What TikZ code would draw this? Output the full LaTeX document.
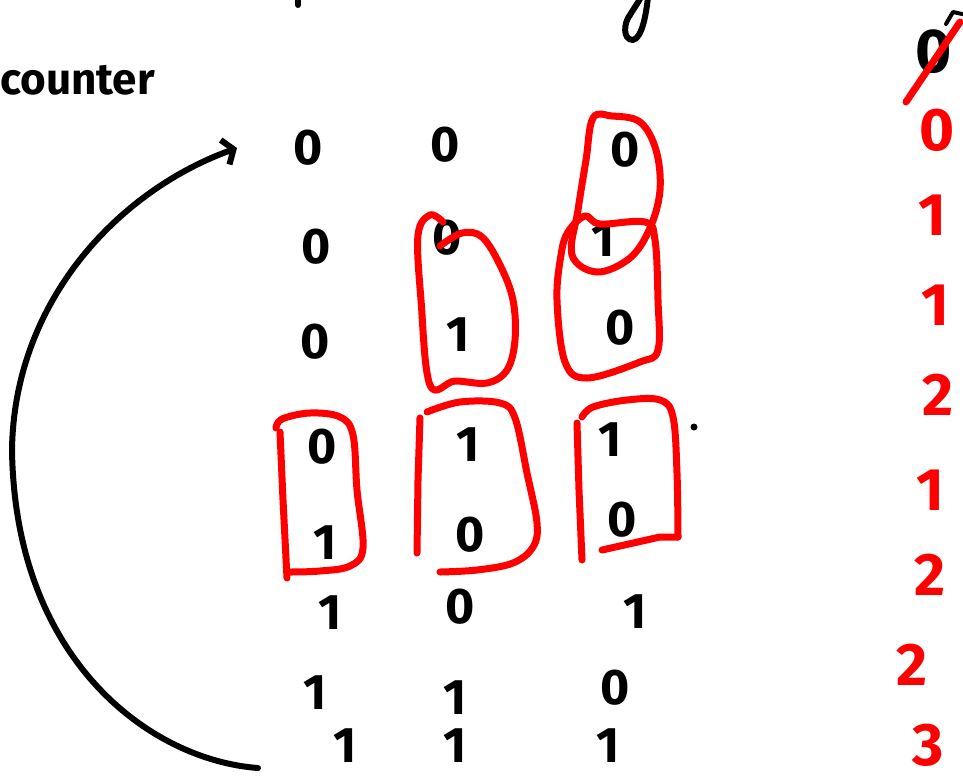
\documentclass[tikz,border=0pt]{standalone}
\usepackage{fontspec}
\setmainfont{Fira Sans}
\usetikzlibrary{arrows.meta}
\begin{document}
\begin{tikzpicture}[x=1pt,y=-1pt,
  digit/.style={font=\fontsize{50}{50}\selectfont\bfseries, inner sep=0pt},
  rdigit/.style={font=\fontsize{60}{60}\selectfont\bfseries, text=red, inner sep=0pt},
  redloop/.style={draw=red, line width=7pt, line cap=round, line join=round},
  ink/.style={draw=black, line width=6pt, line cap=round, line join=round}]
\useasboundingbox (0,0) rectangle (963,782);

% label
\node[font=\fontsize{44}{44}\selectfont\bfseries, anchor=west, inner sep=0pt] (counter) at (0,80) {counter};

% cut-off strokes at the top
\draw[ink] (298,-3) -- (298,5);
\draw[ink] (648,-3) .. controls (646,15) and (642,38) .. (633,40)
  .. controls (622,40) and (624,22) .. (630,15) .. controls (634,8) and (638,3) .. (641,-3);

% bit table
\node[digit] (r1c1) at (308,148) {0};
\node[digit] (r1c2) at (445,145) {0};
\node[digit] (r1c3) at (625,150) {0};
\node[digit] (r2c1) at (316,247) {0};
\node[digit] (r2c2) at (447,238) {0};
\node[digit] (r2c3) at (603,240) {1};
\node[digit] (r3c1) at (315,342) {0};
\node[digit] (r3c2) at (458,335) {1};
\node[digit] (r3c3) at (620,328) {0};
\node[digit] (r4c1) at (322,447) {0};
\node[digit] (r4c2) at (468,445) {1};
\node[digit] (r4c3) at (610,440) {1};
\node[digit] (r5c1) at (325,543) {1};
\node[digit] (r5c2) at (470,535) {0};
\node[digit] (r5c3) at (622,520) {0};
\node[digit] (r6c1) at (330,613) {1};
\node[digit] (r6c2) at (460,607) {0};
\node[digit] (r6c3) at (635,612) {1};
\node[digit] (r7c1) at (315,693) {1};
\node[digit] (r7c2) at (455,698) {1};
\node[digit] (r7c3) at (615,688) {0};
\node[digit] (r8c1) at (345,746) {1};
\node[digit] (r8c2) at (455,746) {1};
\node[digit] (r8c3) at (608,746) {1};

% right column
\node[digit, font=\fontsize{62}{62}\selectfont\bfseries] (z0) at (934,52) {0};
\draw[redloop] (906,102) -- (960,22);
\draw[ink, line width=4pt] (946,24) -- (953,12) -- (962,14);
\node[rdigit] (k1) at (937,130) {0};
\node[rdigit] (k2) at (932,215) {1};
\node[rdigit] (k3) at (935,305) {1};
\node[rdigit] (k4) at (938,395) {2};
\node[rdigit] (k5) at (930,490) {1};
\node[rdigit] (k6) at (930,575) {2};
\node[rdigit] (k7) at (912,665) {2};
\node[rdigit] (k8) at (928,745) {3};

% small dot
\fill (694,427) circle (3.5pt);

% red loops
\draw[redloop] plot[smooth cycle, tension=0.6] coordinates {(593,118) (586,160) (578,210) (572,255) (597,272) (630,258) (650,228) (660,190) (656,150) (640,122) (612,116)};
\draw[redloop] plot[smooth cycle, tension=0.6] coordinates {(568,232) (585,216) (600,224) (645,222) (655,240) (658,300) (658,350) (640,362) (587,378) (565,362) (557,300) (561,255)};
\draw[redloop] plot[smooth, tension=0.6] coordinates {(440,246) (462,233) (482,237) (500,265) (513,300) (515,340) (507,370) (487,383) (455,381) (430,385) (421,300) (418,235) (430,215) (443,222)};

\draw[redloop] (287,578) -- (283,500) -- (280,432);
\draw[redloop] plot[smooth, tension=0.6] coordinates {(276,428) (282,419) (310,413) (340,417) (353,435) (357,490) (363,548) (350,566) (320,571) (290,572)};

\draw[redloop] (417,553) -- (418,480) -- (420,418);
\draw[redloop] plot[smooth, tension=0.6] coordinates {(427,412) (460,402) (500,403) (515,418) (527,473) (537,523) (533,547) (513,563) (477,570) (440,572)};

\draw[redloop] (582,560) -- (579,490) -- (577,423);
\draw[redloop] plot[smooth, tension=0.6] coordinates {(582,417) (593,407) (627,400) (660,400) (673,417) (677,473) (678,537)};
\draw[redloop] (678,537) -- (660,537) -- (602,550);

% wrap-around arrow
\coordinate (arcS) at (258,768);
\coordinate (arcE) at (237,148);
\draw[ink, -{Straight Barb[length=9pt,width=26pt]}] (arcS) .. controls (150,760) and (15,660) .. (12,450)
  .. controls (14,300) and (120,190) .. (arcE);
\end{tikzpicture}
\end{document}
